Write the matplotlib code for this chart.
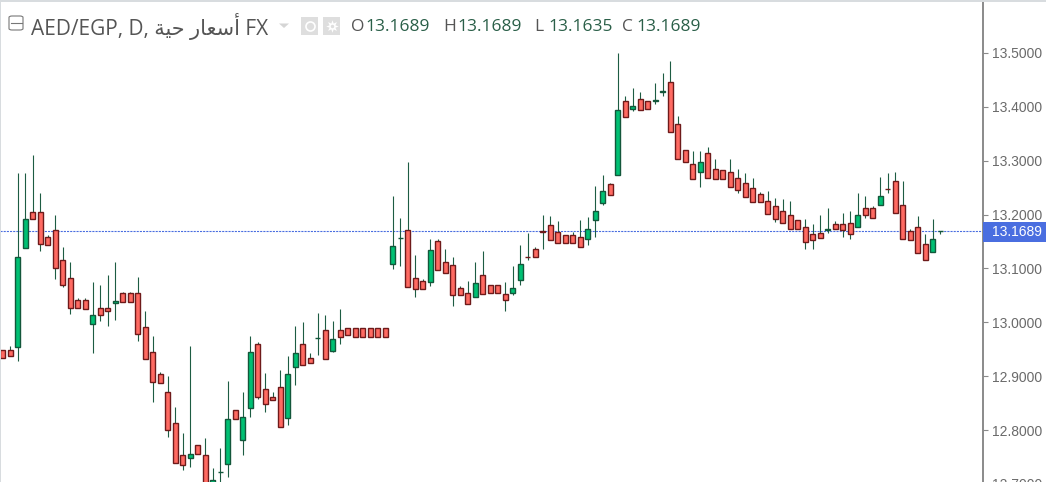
"""AED/EGP daily candles, TradingView style."""
import matplotlib
matplotlib.use("Agg")
import matplotlib.pyplot as plt
import numpy as np
from matplotlib.patches import Rectangle, FancyBboxPatch

OPEN = [12.9486, 12.9486, 12.9541, 13.1379, 13.2048, 13.2048, 13.1584, 13.1714, 13.1157, 13.0822,
        13.0414, 13.0414, 12.9968, 13.0265, 13.0265, 13.0358, 13.0544, 13.0544, 13.0544, 12.9913,
        12.9448, 12.9040, 12.8706, 12.8130, 12.7536, 12.7480, 12.7722, 12.7536, 12.6886, 12.7211,
        12.7369, 12.8372, 12.7815, 12.8408, 12.9597, 12.8761, 12.8613, 12.8799, 12.8223, 12.9170,
        12.9597, 12.9337, 12.9699, 12.9857, 12.9467, 12.9857, 12.9894, 12.9894, 12.9894, 12.9894,
        12.9894, 12.9894, 13.1082, 13.1556, 13.1714, 13.0822, 13.0767, 13.0748, 13.1509, 13.1119,
        13.1064, 13.0637, 13.0544, 13.0470, 13.0878, 13.0692, 13.0692, 13.0525, 13.0544, 13.0785,
        13.1221, 13.1361, 13.1686, 13.1806, 13.1677, 13.1621, 13.1621, 13.1584, 13.1546, 13.1899,
        13.2215, 13.2568, 13.2735, 13.4109, 13.3960, 13.4146, 13.4109, 13.4100, 13.4285, 13.4461,
        13.3682, 13.3199, 13.2939, 13.2791, 13.3143, 13.2846, 13.2828, 13.2791, 13.2679, 13.2586,
        13.2493, 13.2382, 13.2252, 13.2159, 13.2066, 13.1992, 13.1899, 13.1769, 13.1639, 13.1658,
        13.1714, 13.1825, 13.1825, 13.1844, 13.1769, 13.2122, 13.2122, 13.2178, 13.2484, 13.2623,
        13.2178, 13.1695, 13.1769, 13.1454, 13.1305, 13.1689]
HIGH = [12.9486, 12.9560, 13.2772, 13.2772, 13.3106, 13.2401, 13.1621, 13.1992, 13.1398, 13.1119,
        13.0451, 13.0451, 13.0748, 13.0692, 13.0878, 13.1119, 13.0562, 13.0562, 13.0841, 13.0210,
        12.9746, 12.9077, 12.9003, 12.8427, 12.7944, 12.9560, 12.7722, 12.7852, 12.7295, 12.7666,
        12.8910, 12.8372, 12.8706, 12.9746, 12.9634, 12.9058, 12.8706, 12.9114, 12.9374, 12.9931,
        13.0006, 12.9430, 13.0173, 13.0135, 13.0024, 13.0247, 12.9894, 12.9894, 12.9894, 12.9894,
        12.9894, 12.9894, 13.2345, 13.1936, 13.2976, 13.1249, 13.0804, 13.1546, 13.1546, 13.1361,
        13.1212, 13.0674, 13.0767, 13.1119, 13.1324, 13.0692, 13.0692, 13.0748, 13.1045, 13.1435,
        13.1658, 13.1398, 13.1992, 13.1973, 13.1881, 13.1621, 13.1677, 13.1899, 13.1955, 13.2531,
        13.2735, 13.2586, 13.5000, 13.4202, 13.4350, 13.4276, 13.4109, 13.4443, 13.4629, 13.4851,
        13.3830, 13.3199, 13.3180, 13.3180, 13.3255, 13.3032, 13.2828, 13.3032, 13.2846, 13.2772,
        13.2679, 13.2419, 13.2438, 13.2308, 13.2289, 13.2252, 13.1899, 13.1918, 13.1825, 13.1992,
        13.2122, 13.1881, 13.2029, 13.2066, 13.2401, 13.2345, 13.2159, 13.2698, 13.2772, 13.2791,
        13.2623, 13.1732, 13.1973, 13.1639, 13.1918, 13.1689]
LOW = [12.9337, 12.9374, 12.9281, 13.1379, 13.1918, 13.1324, 13.1435, 13.0804, 13.0655, 13.0154,
       13.0265, 13.0247, 12.9430, 13.0024, 12.9931, 13.0043, 13.0377, 13.0377, 12.9653, 12.9318,
       12.8520, 12.8873, 12.7870, 12.7388, 12.7257, 12.7313, 12.7555, 12.6886, 12.6886, 12.6979,
       12.7127, 12.8204, 12.7536, 12.8242, 12.8576, 12.8334, 12.8557, 12.8056, 12.8093, 12.8836,
       12.9207, 12.9244, 12.9393, 12.9318, 12.9448, 12.9597, 12.9764, 12.9727, 12.9727, 12.9727,
       12.9727, 12.9727, 13.0989, 13.1045, 13.0655, 13.0470, 13.0618, 13.0674, 13.0971, 13.0915,
       13.0302, 13.0507, 13.0340, 13.0470, 13.0525, 13.0544, 13.0544, 13.0210, 13.0507, 13.0692,
       13.1157, 13.1212, 13.1361, 13.1528, 13.1472, 13.1472, 13.1472, 13.1398, 13.1435, 13.1584,
       13.2178, 13.2363, 13.2735, 13.3812, 13.3923, 13.3942, 13.3960, 13.4053, 13.4202, 13.3533,
       13.3032, 13.2976, 13.2660, 13.2512, 13.2679, 13.2660, 13.2660, 13.2512, 13.2401, 13.2326,
       13.2233, 13.2233, 13.2011, 13.1862, 13.1844, 13.1732, 13.1732, 13.1361, 13.1361, 13.1565,
       13.1658, 13.1732, 13.1584, 13.1546, 13.1769, 13.1936, 13.1936, 13.2178, 13.2401, 13.2029,
       13.1546, 13.1528, 13.1287, 13.1157, 13.1305, 13.1635]
CLOSE = [12.9337, 12.9374, 13.1212, 13.1918, 13.1918, 13.1454, 13.1435, 13.1008, 13.0692, 13.0265,
         13.0265, 13.0247, 13.0135, 13.0135, 13.0210, 13.0395, 13.0377, 13.0377, 12.9783, 12.9318,
         12.8891, 12.8873, 12.8000, 12.7388, 12.7350, 12.7555, 12.7555, 12.6886, 12.7072, 12.7229,
         12.8204, 12.8204, 12.8242, 12.9448, 12.8613, 12.8483, 12.8557, 12.8056, 12.9040, 12.9430,
         12.9207, 12.9244, 12.9717, 12.9318, 12.9690, 12.9727, 12.9764, 12.9727, 12.9727, 12.9727,
         12.9727, 12.9727, 13.1417, 13.1574, 13.0655, 13.0618, 13.0618, 13.1342, 13.0971, 13.0915,
         13.0507, 13.0507, 13.0340, 13.0730, 13.0525, 13.0544, 13.0544, 13.0414, 13.0637, 13.1082,
         13.1203, 13.1212, 13.1668, 13.1528, 13.1472, 13.1472, 13.1472, 13.1398, 13.1732, 13.2066,
         13.2438, 13.2363, 13.3942, 13.3812, 13.4016, 13.3942, 13.3960, 13.4118, 13.4303, 13.3533,
         13.3032, 13.2976, 13.2660, 13.2976, 13.2679, 13.2660, 13.2660, 13.2512, 13.2456, 13.2326,
         13.2233, 13.2233, 13.2011, 13.1918, 13.1844, 13.1732, 13.1732, 13.1491, 13.1528, 13.1565,
         13.1732, 13.1732, 13.1714, 13.1639, 13.1992, 13.1992, 13.1936, 13.2345, 13.2466, 13.2029,
         13.1546, 13.1528, 13.1287, 13.1157, 13.1546, 13.1689]
YTICKS = [12.7, 12.8, 12.9, 13.0, 13.1, 13.2, 13.3, 13.4, 13.5]
LAST = 13.1689
TITLE = "AED/EGP, D, \ufe94\ufef4\ufea3 \ufead\ufe8e\ufecc\ufeb3\ufe83 FX"
OHLC = [("O", "13.1689"), ("H", "13.1689"), ("L", "13.1635"), ("C", "13.1689")]

W, H = 1046, 482
GREEN, GREEN_E = "#00c073", "#13573b"
RED, RED_E = "#ff6a62", "#6e1a1a"
WICK = "#1d5c43"
GREY = "#8a8a8a"
BLUE = "#4a6ee0"

plt.rcParams["font.family"] = ["Liberation Sans", "DejaVu Sans"]


def fx(x):
    return x / W


def fy(y):
    return 1 - y / H


fig = plt.figure(figsize=(W / 100, H / 100), dpi=100, facecolor="white")
# axes run a little past the bottom edge so the 12.7000 tick is cut off
ax = fig.add_axes([0, -8 / H, 983 / W, 490 / H])
ax.set_xlim(-2.6 / 7.5, 980.4 / 7.5)
ax.set_ylim(12.6886, 13.5984)

x = np.arange(len(OPEN))
o, h, l, c = map(np.array, (OPEN, HIGH, LOW, CLOSE))
up = c >= o
ax.vlines(x, l, h, color=WICK, lw=0.8, zorder=2)
ax.bar(x, np.abs(c - o), bottom=np.minimum(o, c), width=0.66,
       color=np.where(up, GREEN, RED), edgecolor=np.where(up, GREEN_E, RED_E),
       linewidth=1.0, zorder=3)
ax.axhline(LAST, color=BLUE, lw=0.8, dashes=(1.9, 0.95), zorder=1)

for s in ("top", "left", "bottom"):
    ax.spines[s].set_visible(False)
ax.spines["right"].set_color(GREY)
ax.spines["right"].set_linewidth(1.4)
ax.set_xticks([])
ax.yaxis.tick_right()
ax.set_yticks(YTICKS, [f"{v:.4f}" for v in YTICKS])
ax.tick_params(axis="y", length=3.8, width=0.8, color=GREY, labelcolor="#6a6a6a",
               labelsize=10, pad=2.8)

# frame edges
fig.add_artist(Rectangle((0, fy(1.5)), 1, 1.5 / H, transform=fig.transFigure, color="#d8dcdf", lw=0))
fig.add_artist(Rectangle((0, 0), 1 / W, 1, transform=fig.transFigure, color="#d8dcdf", lw=0))

# last price tag
fig.add_artist(Rectangle((fx(983), fy(242)), 63 / W, 20 / H, transform=fig.transFigure,
                         color=BLUE, lw=0))
fig.text(fx(992), fy(232), f"{LAST:.4f}", color="white", fontsize=10, va="center")

# legend row
hdr = ["Open Sans", "DejaVu Sans"]
fig.add_artist(FancyBboxPatch((fx(9), fy(30)), 14 / W, 14 / H, boxstyle="round,pad=0,rounding_size=0.003",
                              transform=fig.transFigure, fc="white", ec="#777777", lw=0.8))
fig.add_artist(plt.Line2D([fx(11), fx(22)], [fy(23), fy(23)], color="#777777", lw=0.8))
fig.text(fx(31), fy(27), TITLE, color="#555555", fontsize=15, family=hdr, va="center")
fig.add_artist(plt.Polygon([[fx(279), fy(23.5)], [fx(289), fy(23.5)], [fx(284), fy(28)]],
                           transform=fig.transFigure, color="#d5d5d5", lw=0))
for left in (301, 323):
    fig.add_artist(Rectangle((fx(left), fy(35)), 17 / W, 18 / H, transform=fig.transFigure,
                             color="#dedede", lw=0))
fig.add_artist(plt.Line2D([fx(309.5)], [fy(26)], marker="o", ms=6.5, mfc="none", mec="white", mew=1.2))
fig.add_artist(plt.Line2D([fx(331.5)], [fy(26)], marker=(8, 1, 0), ms=9, mfc="white", mec="white", mew=0))
fig.add_artist(plt.Line2D([fx(331.5)], [fy(26)], marker="o", ms=2.5, mfc="#dedede", mec="none"))

for (name, val), lx in zip(OHLC, (351, 443, 534, 622)):
    fig.text(fx(lx), fy(27), name, color="#555555", fontsize=12.5, family=hdr, va="center")
    fig.text(fx(lx + 14), fy(27), val, color="#2a5f48", fontsize=12.5, family=hdr, va="center")

fig.savefig("out.png", dpi=100, facecolor="white")
